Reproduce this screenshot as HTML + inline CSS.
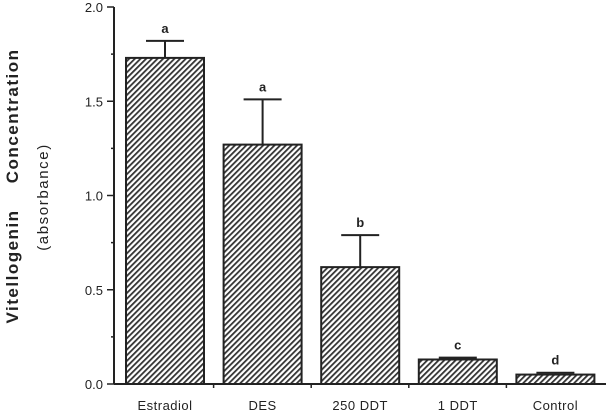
<!DOCTYPE html>
<html><head><meta charset="utf-8"><style>
body{margin:0;background:#fff;}
svg text{font-family:"Liberation Sans",sans-serif;fill:#222;}
</style></head><body>
<svg id="chart" width="615" height="415" viewBox="0 0 615 415" xmlns="http://www.w3.org/2000/svg">
<defs>
<pattern id="hatch" patternUnits="userSpaceOnUse" width="4" height="4" patternTransform="rotate(45)">
<rect width="4" height="4" fill="#fff"/>
<rect width="1.8" height="4" fill="#333"/>
</pattern>
</defs>
<text transform="translate(18,186) rotate(-90)" text-anchor="middle" font-size="17" font-weight="bold" letter-spacing="1.5" word-spacing="20">Vitellogenin Concentration</text>
<text transform="translate(48,197) rotate(-90)" text-anchor="middle" font-size="15" letter-spacing="1.6">(absorbance)</text>
<g id="plot"></g>
</svg>
<script>
const categories=["Estradiol","DES","250 DDT","1 DDT","Control"];
const values=[1.73,1.27,0.62,0.13,0.05];
const errors=[0.09,0.24,0.17,0.01,0.01];
const letters=["a","a","b","c","d"];
const yTicks=[0,0.5,1.0,1.5,2.0];
const yTickLabels=["0.0","0.5","1.0","1.5","2.0"];
const ns="http://www.w3.org/2000/svg";
const g=document.getElementById('plot');
const x0=114,y0=384,yTop=7,step=97.6,barW=78,firstLeft=126;
function y(v){return y0-(v/2)*(y0-yTop);}
function bx(i){return firstLeft+i*step;}
function mk(t,a){const e=document.createElementNS(ns,t);for(const k in a)e.setAttribute(k,a[k]);g.appendChild(e);return e;}
let e=mk('line',{x1:x0,y1:yTop,x2:x0,y2:y0,stroke:'#222','stroke-width':2});


e=mk('line',{x1:x0,y1:y0,x2:606,y2:y0,stroke:'#222','stroke-width':2});


for(let v=0;v<=2.0001;v+=0.25){
  const major=Math.abs(v*2-Math.round(v*2))<1e-6;
  e=mk('line',{x1:x0-(major?7:3),y1:y(v),x2:x0,y2:y(v),stroke:'#222','stroke-width':1.5});
  
  
}
yTicks.forEach((v,i)=>{
  e=mk('text',{x:x0-11,y:y(v)+5,'text-anchor':'end','font-size':13});
  e.textContent=yTickLabels[i];
  
  
});
categories.forEach((c,i)=>{
  const l=bx(i),cx=l+barW/2;
  if(i>0){e=mk('line',{x1:l-10,y1:y0,x2:l-10,y2:y0+4,stroke:'#222','stroke-width':1.5});
  
  }
  e=mk('rect',{x:l,y:y(values[i]),width:barW,height:y0-y(values[i]),fill:'url(#hatch)',stroke:'#222','stroke-width':2});
  
  
  const top=y(values[i]+errors[i]);
  e=mk('path',{d:`M${cx},${y(values[i])}V${top}M${cx-19},${top}H${cx+19}`,stroke:'#222','stroke-width':2,fill:'none'});
  
  
  e=mk('text',{x:cx,y:top-8,'text-anchor':'middle','font-size':13,'font-weight':'bold'});
  e.textContent=letters[i];
  
  
  e=mk('text',{x:cx,y:410,'text-anchor':'middle','font-size':13,'letter-spacing':'0.5'});
  e.textContent=c;
  
  
});
</script>
</body></html>
